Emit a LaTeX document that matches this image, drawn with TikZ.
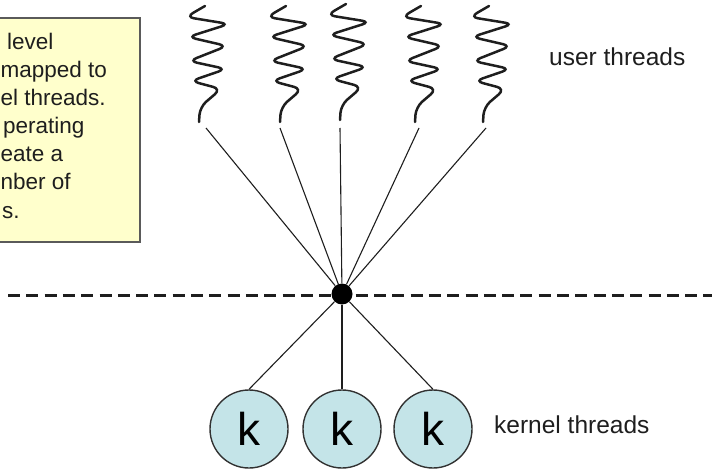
\documentclass[tikz,border=0pt]{standalone}
\usepackage{fontspec}
\setmainfont{Liberation Sans}
\definecolor{boxfill}{RGB}{255,255,204}
\definecolor{boxline}{RGB}{90,90,90}
\definecolor{kfill}{RGB}{196,228,232}
\definecolor{kline}{RGB}{50,50,50}
\definecolor{ink}{RGB}{30,30,30}
\tikzset{
  sq/.style={draw=ink, line width=2.5pt, rounded corners=8pt, line cap=round},
  squiggle/.pic={
    \path[sq] (6,116) -- (-13,105) -- (30,98) -- (-11,85) -- (28,76) -- (-10,61)
      -- (27,53) -- (-8,41) -- (22,33) -- (1,15) -- (0,0);
  },
  conn/.style={draw=ink, line width=1.1pt},
  kthread/.style={circle, draw=kline, line width=1.4pt, fill=kfill, minimum size=78pt,
    inner sep=0pt, font=\fontsize{46}{50}\selectfont},
  boxtext/.style={anchor=base west, inner sep=0pt, font=\fontsize{22.5}{28}\selectfont, text=ink},
  label/.style={anchor=base west, inner sep=0pt, font=\fontsize{24.5}{29}\selectfont, text=ink},
}
\begin{document}
\begin{tikzpicture}[x=1pt, y=1pt]
\useasboundingbox (0,0) rectangle (712,472);
% note box
\path[fill=boxfill, draw=boxline, line width=1.5pt] (-5,454) rectangle (140,230);
\node[boxtext] (t1) at (1,422) {\hspace*{6pt}level};
\node[boxtext] (t2) at (0.5,394) {mapped to};
\node[boxtext] (t3) at (0.5,366) {el threads.};
\node[boxtext] (t4) at (3,338) {perating};
\node[boxtext] (t5) at (0.5,310) {eate a};
\node[boxtext] (t6) at (0.5,282) {nber of};
\node[boxtext] (t7) at (2,254) {s.};
% user threads
\pic at (199,350) {squiggle};
\pic at (280,350) {squiggle};
\pic at (340,352) {squiggle};
\pic at (415,350) {squiggle};
\pic at (483,350) {squiggle};
\coordinate (u1) at (206,344);
\coordinate (u2) at (280,344);
\coordinate (u3) at (340,344);
\coordinate (u4) at (419,344);
\coordinate (u5) at (486,344);
% dashed boundary
\coordinate (dl) at (8,177);
\coordinate (dr) at (712,177);
\draw[ink, line width=3pt, dash pattern=on 12pt off 6.3pt] (dl) -- (dr);
% center dot
\node[circle, fill=black, minimum size=21pt, inner sep=0pt] (c) at (342,178) {};
% kernel threads
\node[kthread] (k1) at (249,43) {k};
\node[kthread] (k2) at (342,43) {k};
\node[kthread] (k3) at (433,43) {k};
\foreach \u in {u1,u2,u3,u4,u5} \draw[conn] (c) -- (\u);
\foreach \k in {k1,k2,k3} \draw[conn] (c) -- (\k.north);
% labels
\node[label] (ul) at (549,406) {user threads};
\node[label] (kl) at (494,39) {kernel threads};
\end{tikzpicture}
\end{document}
